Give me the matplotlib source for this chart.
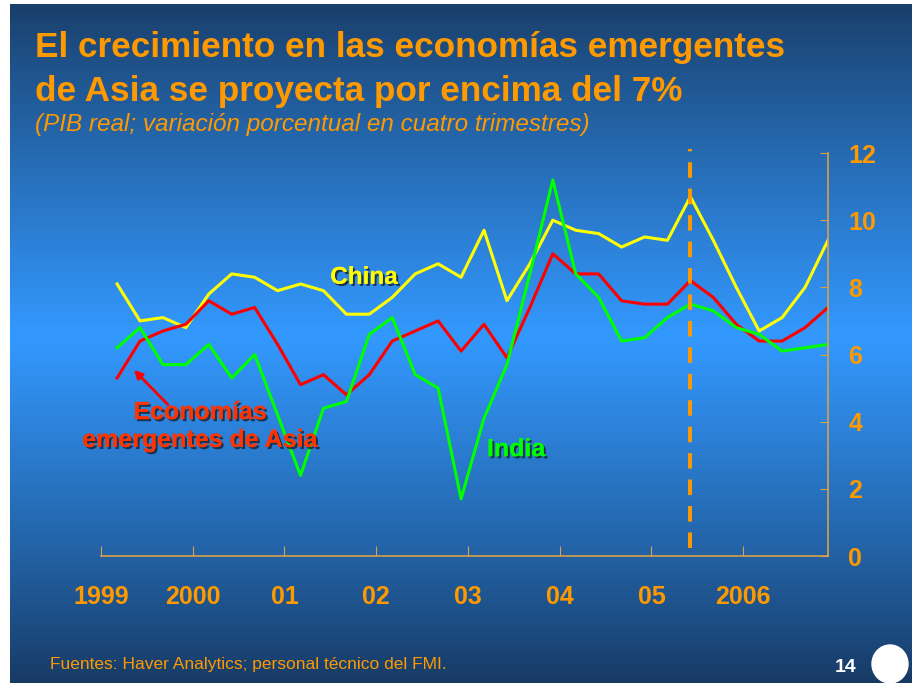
import numpy as np
import matplotlib
matplotlib.use("Agg")
from matplotlib import pyplot as plt
from matplotlib import patheffects as pe
from matplotlib.patches import Ellipse

plt.rcParams['font.family'] = ['Liberation Sans', 'DejaVu Sans']

# quarterly data, 1999Q1 .. 2006Q4
quarters = np.arange(32)
china = [8.1, 7.0, 7.1, 6.8, 7.8, 8.4, 8.3, 7.9, 8.1, 7.9, 7.2, 7.2, 7.7, 8.4, 8.7, 8.3,
         9.7, 7.6, 8.7, 10.0, 9.7, 9.6, 9.2, 9.5, 9.4, 10.7, 9.4, 8.0, 6.7, 7.1, 8.0, 9.4]
asia = [5.3, 6.4, 6.7, 6.9, 7.6, 7.2, 7.4, 6.3, 5.1, 5.4, 4.8, 5.4, 6.4, 6.7, 7.0, 6.1,
        6.9, 5.9, 7.4, 9.0, 8.4, 8.4, 7.6, 7.5, 7.5, 8.2, 7.7, 6.9, 6.4, 6.4, 6.8, 7.4]
india = [6.2, 6.8, 5.7, 5.7, 6.3, 5.3, 6.0, 4.2, 2.4, 4.4, 4.6, 6.6, 7.1, 5.4, 5.0, 1.7,
         4.1, 5.7, 8.4, 11.2, 8.4, 7.7, 6.4, 6.5, 7.1, 7.5, 7.3, 6.8, 6.6, 6.1, 6.2, 6.3]
year_labels = ['1999', '2000', '01', '02', '03', '04', '05', '2006']
proj_start = 25  # start of projections

orange = '#FF9900'
spine_col = '#D9A04A'

fig = plt.figure(figsize=(9.14, 6.83), dpi=100)
fig.patch.set_facecolor('white')

# gradient background
bg = fig.add_axes([10/914, 0, 902/914, 679/683])
bg.axis('off')
t = np.linspace(0, 1, 256)
top = np.array([0x18, 0x3a, 0x62]) / 255
mid = np.array([0x33, 0x99, 0xff]) / 255
bot = np.array([0x17, 0x3a, 0x64]) / 255
w = np.clip(1 - np.abs(t - 0.49) / 0.51, 0, 1) ** 0.9
cols = np.empty((256, 1, 3))
for k in range(256):
    end = top if t[k] < 0.49 else bot
    cols[k, 0] = end + (mid - end) * w[k]
bg.imshow(cols, aspect='auto', extent=[0, 1, 0, 1], origin='upper')
bg.set_xlim(0, 1)
bg.set_ylim(0, 1)

ax = fig.add_axes([101/914, 1 - 556/683, 727/914, 403/683])
ax.patch.set_alpha(0)
ax.plot(quarters, china, color='#FFFF00', lw=2.2)
ax.plot(quarters, asia, color='#FF0000', lw=2.2)
ax.plot(quarters, india, color='#00FF00', lw=2.2)
ax.axvline(proj_start, ymin=0.02, ymax=1.01, color=orange, lw=2.8,
           dashes=(4, 2.8), clip_on=False)

ax.set_xlim(-0.7, 31)
ax.set_ylim(0, 12)
for s in ['left', 'top']:
    ax.spines[s].set_visible(False)
for s in ['right', 'bottom']:
    ax.spines[s].set_color(spine_col)
    ax.spines[s].set_linewidth(1.2)
ax.yaxis.tick_right()
ax.set_yticks(range(0, 13, 2))
ax.set_xticks(np.arange(len(year_labels)) * 4 - 0.7)
ax.set_xticklabels(year_labels)
ax.tick_params(axis='y', direction='in', length=6, color=spine_col, pad=14.5,
               labelsize=18, labelcolor=orange)
ax.tick_params(axis='x', direction='in', length=7, color=spine_col, pad=21,
               labelsize=18, labelcolor=orange)
for lab in ax.get_xticklabels() + ax.get_yticklabels():
    lab.set_fontweight('bold')

shadow = [pe.withSimplePatchShadow(offset=(1.5, -1.5), shadow_rgbFace='#1a2a40', alpha=0.9), pe.Normal()]
ax.text(10.77, 8.3, 'China', color='#FFFF00', fontsize=17.5, fontweight='bold',
        ha='center', va='center', path_effects=shadow)
ax.text(17.4, 3.18, 'India', color='#00FF00', fontsize=18, fontweight='bold',
        ha='center', va='center', path_effects=shadow)
ax.text(3.62, 3.87, 'Economías\nemergentes de Asia', color='#FF3300', fontsize=18,
        fontweight='bold', ha='center', va='center', linespacing=1.2,
        path_effects=shadow)
ax.annotate('', xy=(0.65, 5.6), xytext=(2.3, 4.45),
            arrowprops=dict(arrowstyle='-|>', color='#FF0000', lw=2,
                            mutation_scale=12))

fig.text(35/914, 1 - 47/683, 'El crecimiento en las economías emergentes',
         color=orange, fontsize=25.3, fontweight='bold', va='center')
fig.text(35/914, 1 - 91/683, 'de Asia se proyecta por encima del 7%',
         color=orange, fontsize=25.3, fontweight='bold', va='center')
fig.text(35/914, 1 - 125/683, '(PIB real; variación porcentual en cuatro trimestres)',
         color=orange, fontsize=17.5, style='italic', va='center')
fig.text(50/914, 1 - 665/683, 'Fuentes: Haver Analytics; personal técnico del FMI.',
         color=orange, fontsize=12.5, va='center')
fig.text(846/914, 1 - 667/683, '14', color='white', fontsize=14,
         fontweight='bold', ha='center', va='center')
fig.add_artist(Ellipse((890/914, 1 - 664/683), 36/914, 38/683,
                       transform=fig.transFigure, color='white'))

fig.savefig('out.png', dpi=100)
